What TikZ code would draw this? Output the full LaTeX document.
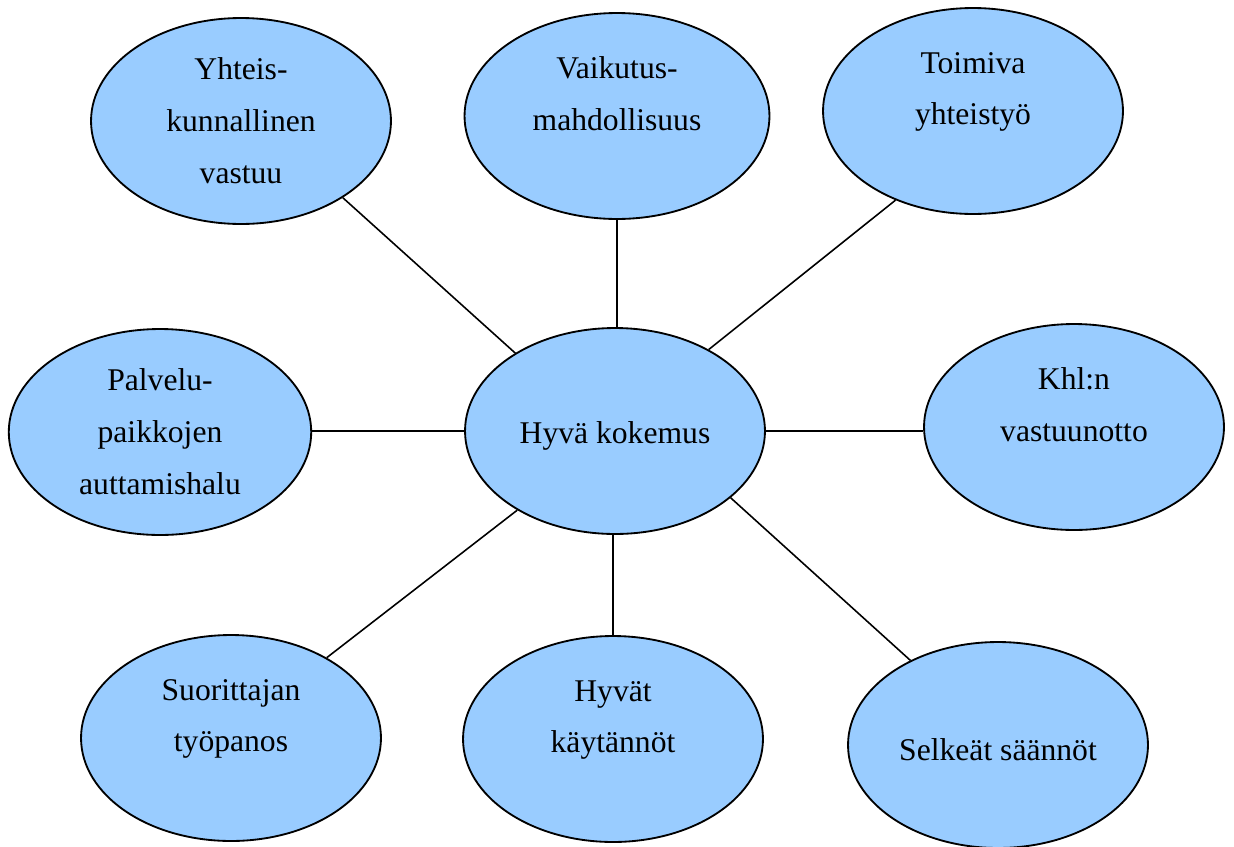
\documentclass[tikz,border=0pt]{standalone}
\usepackage{fontspec}
\setmainfont{Liberation Serif}
\usepackage{xcolor}
\usetikzlibrary{shapes.geometric}
\definecolor{bubble}{HTML}{99CCFF}

\begin{document}
\begin{tikzpicture}[x=0.02cm,y=-0.02cm,
  every node/.style={font=\fontsize{18}{29.5}\selectfont,align=center},
  bubble/.style={draw,ellipse,fill=bubble,line width=1.05pt,inner sep=0pt,
    minimum width=6cm,minimum height=4.12cm,
    execute at begin node={\rule{0pt}{18pt}}},
  link/.style={line width=0.9pt}]
  \useasboundingbox (0,0) rectangle (1234,846);

  \node[bubble] (hyva) at (615,431) {Hyvä kokemus};
  \node[bubble] (yhteis) at (241,121) {Yhteis-\\kunnallinen\\vastuu};
  \node[bubble,minimum width=6.1cm] (vaikutus) at (617,116) {Vaikutus-\\mahdollisuus\\[-4pt]\mbox{}};
  \node[bubble] (toimiva) at (973,111) {Toimiva\\yhteistyö\\[-4pt]\mbox{}};
  \node[bubble,minimum width=6.05cm] (palvelu) at (160,432) {Palvelu-\\paikkojen\\auttamishalu};
  \node[bubble] (khl) at (1074,427) {Khl:n\\vastuunotto\\[-4pt]\mbox{}};
  \node[bubble] (suorittaja) at (231,738) {Suorittajan\\työpanos\\[-4pt]\mbox{}};
  \node[bubble] (kaytannot) at (613,739) {Hyvät\\käytännöt\\[-4pt]\mbox{}};
  \node[bubble] (saannot) at (998,745) {Selkeät säännöt};

  \draw[link] (hyva.142.8) -- (yhteis.-37.8);
  \draw[link] (vaikutus.south) -- (vaikutus.south |- hyva.north);
  \draw[link] (hyva.41.2) -- (toimiva.-131.7);
  \draw[link] (hyva.west) -- (hyva.west -| palvelu.east);
  \draw[link] (hyva.east) -- (hyva.east -| khl.west);
  \draw[link] (hyva.-141.8) -- (suorittaja.40.2);
  \draw[link] (kaytannot.north) -- (kaytannot.north |- hyva.south);
  \draw[link] (hyva.-30.3) -- (saannot.136.9);
\end{tikzpicture}
\end{document}
